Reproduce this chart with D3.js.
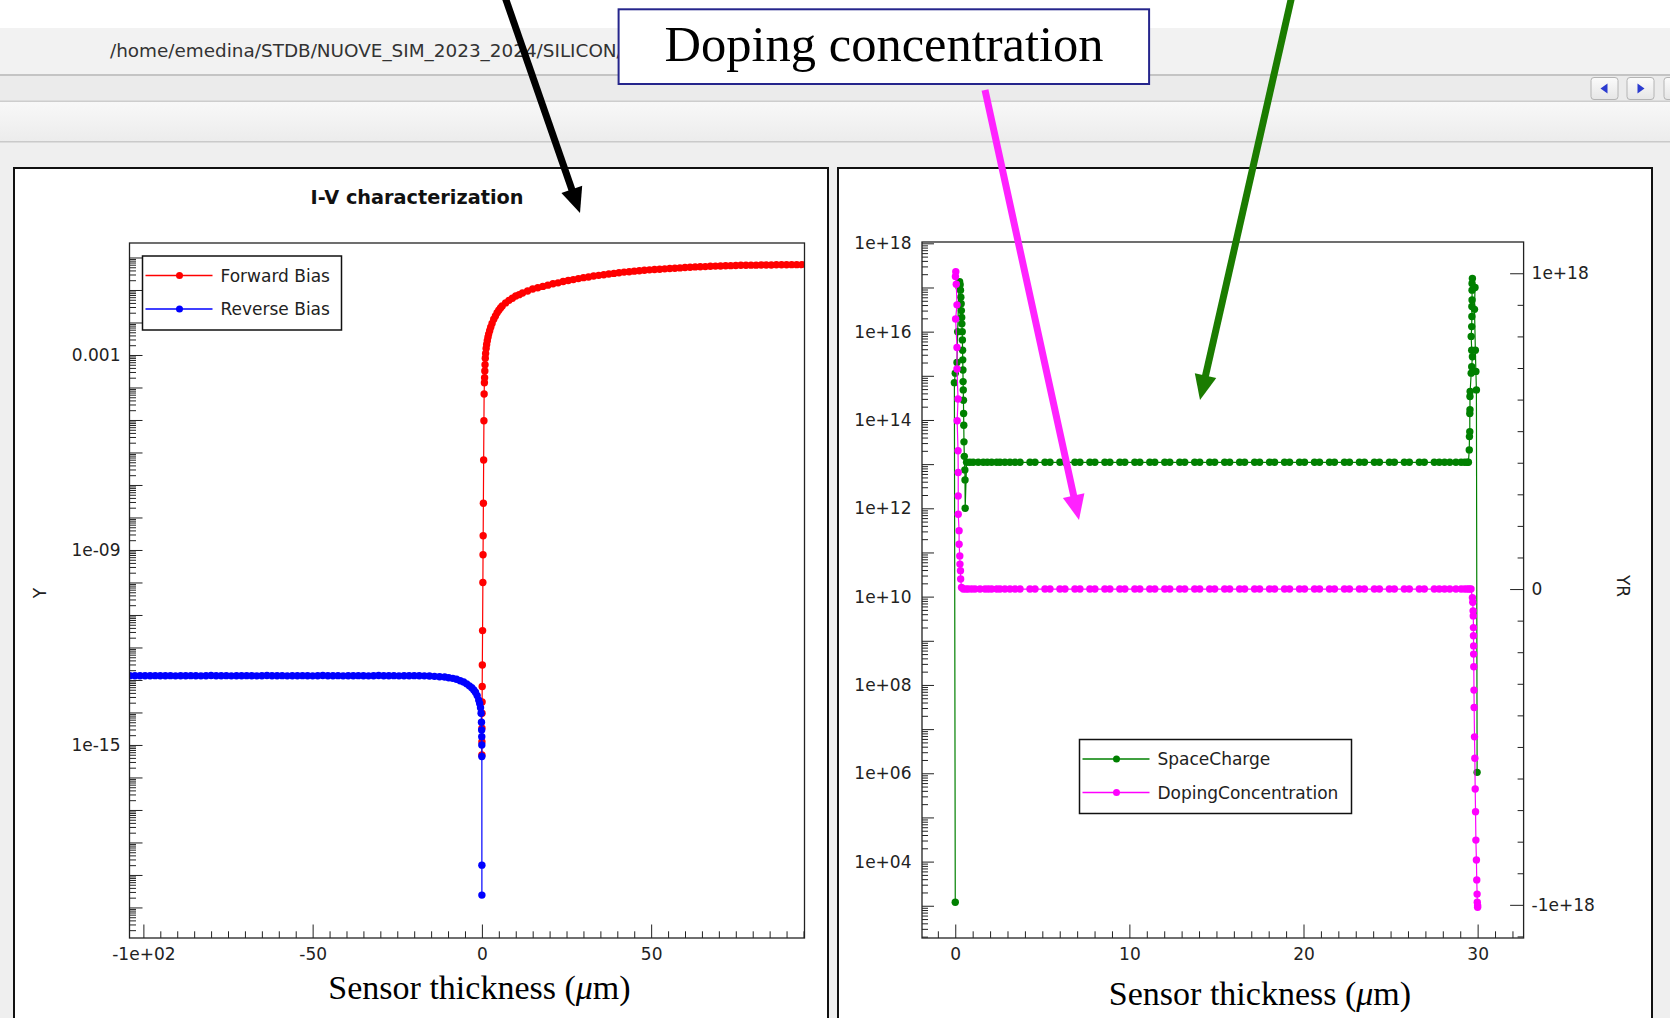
<!DOCTYPE html>
<html><head><meta charset="utf-8">
<script src="https://cdn.jsdelivr.net/npm/d3@7/dist/d3.min.js"></script>
<style>html,body{margin:0;padding:0;background:#fff;overflow:hidden}svg{display:block}</style>
</head><body>
<svg id="c" width="1670" height="1018"></svg>
<script>
// ================= DATA =================
const pathText = "/home/emedina/STDB/NUOVE_SIM_2023_2024/SILICON/";
const boxTitle = "Doping concentration";
const ivTitle = "I-V characterization";
const xTitleA = "Sensor thickness (", xTitleMu = "\u03bc", xTitleB = "m)";
const ivNames = ["Forward Bias", "Reverse Bias"];
const dopNames = ["SpaceCharge", "DopingConcentration"];
const ivYName = "Y", dopYRName = "YR";

// Forward bias (red)
const fwdV = [0.00,0.01,0.02,0.04,0.06,0.09,0.13,0.20,0.29,0.34,0.38,0.44,0.52,0.60,0.66,0.74,0.80,0.86,0.93,1.00,
  1.10,1.25,1.40,1.60,1.80,2.00,2.30,2.60,3.00,3.50,4.00,4.50,5.00,5.50,6.00,7.0,8.0,9.0,10.0,11.0,12.0,
  13.5,15.0,16.5,18.0,19.5,21.0,22.5,24.0,25.5,27.0,28.5,30.0,31.5,33.0,34.5,36.0,37.5,39.0,40.5,42.0,43.5,45.0,
  46.5,48.0,49.5,51.0,52.5,54.0,55.5,57.0,58.5,60.0,61.5,63.0,64.5,66.0,67.5,69.0,70.5,72.0,73.5,75.0,76.5,78.0,
  79.5,81.0,82.5,84.0,85.5,87.0,88.5,90.0,91.5,93.0,94.5,96.0];
const fwdI = [4.9e-16,1.26e-15,3.3e-15,9.5e-15,2.1e-14,6.3e-14,2.9e-13,3.3e-12,1.0e-10,7.1e-10,2.75e-9,2.75e-8,5.9e-7,9.5e-6,6.3e-5,1.4e-4,2.0e-4,3.2e-4,5.0e-4,7.9e-4,
  1.12e-3,1.58e-3,2.1e-3,2.75e-3,3.5e-3,4.4e-3,5.6e-3,7.2e-3,9.3e-3,1.26e-2,1.58e-2,2.0e-2,2.4e-2,2.8e-2,3.2e-2,4.0e-2,4.8e-2,5.6e-2,6.5e-2,7.2e-2,8.1e-2,
  9.3e-2,0.107,0.117,0.129,0.141,0.155,0.166,0.182,0.195,0.209,0.224,0.240,0.251,0.269,0.282,0.295,0.309,0.324,0.339,0.355,0.363,0.380,
  0.389,0.407,0.417,0.427,0.437,0.447,0.457,0.468,0.479,0.490,0.501,0.513,0.519,0.525,0.537,0.543,0.550,0.556,0.562,0.569,0.575,0.575,
  0.582,0.582,0.589,0.589,0.589,0.596,0.596,0.596,0.603,0.603,0.603,0.603];

// Reverse bias (blue)
const revV = [0.0,-0.001,-0.01,-0.02,-0.04,-0.07,-0.12,-0.24,-0.4,-0.65,-0.94,-1.4,-1.9,-2.4,-3.0,-3.7,-4.5,-5.4,-6.4,-7.5,-8.6,-9.8,-11,-12.5,-14,-15.5,-17,
  -18.5,-20,-21.5,-23,-24.5,-26,-27.5,-29,-30.5,-32,-33.5,-35,-36.5,-38,-39.5,-41,-42.5,-44,-45.5,-47,-48.5,-50,-51.5,-53,-54.5,-56,-57.5,-59,
  -60.5,-62,-63.5,-65,-66.5,-68,-69.5,-71,-72.5,-74,-75.5,-77,-78.5,-80,-81.5,-83,-84.5,-86,-87.5,-89,-90.5,-92,-93.5,-95,-96.5,-98,-99.5,-101,-102.5,-104];
const revI = [2.4e-20,2.0e-19,4.4e-16,1.0e-15,1.8e-15,2.9e-15,5.0e-15,9.5e-15,1.4e-14,1.9e-14,2.4e-14,3.3e-14,4.2e-14,4.9e-14,5.8e-14,6.6e-14,7.6e-14,8.7e-14,9.5e-14,1.05e-13,1.12e-13,1.17e-13,1.23e-13,1.26e-13,1.29e-13,1.32e-13,1.34e-13,
  1.35e-13,1.36e-13,1.35e-13,1.35e-13,1.34e-13,1.36e-13,1.35e-13,1.35e-13,1.37e-13,1.35e-13,1.34e-13,1.35e-13,1.36e-13,1.35e-13,1.35e-13,1.34e-13,1.36e-13,1.35e-13,1.35e-13,1.37e-13,1.35e-13,1.34e-13,1.35e-13,1.36e-13,1.35e-13,1.35e-13,1.34e-13,1.36e-13,
  1.35e-13,1.35e-13,1.37e-13,1.35e-13,1.34e-13,1.35e-13,1.36e-13,1.35e-13,1.35e-13,1.34e-13,1.36e-13,1.35e-13,1.35e-13,1.37e-13,1.35e-13,1.34e-13,1.35e-13,1.36e-13,1.35e-13,1.35e-13,1.34e-13,1.36e-13,1.35e-13,1.35e-13,1.36e-13,1.35e-13,1.35e-13,1.35e-13,1.35e-13,1.35e-13];

// SpaceCharge (green, left log axis)
const scX = [0.00,-0.05,0.00,0.10,0.14,0.18,0.22,0.25,0.28,0.30,0.32,0.34,0.35,0.37,0.38,0.40,0.41,0.42,0.43,0.44,0.45,0.46,0.47,0.48,0.49,0.50,0.52,0.55,0.56,0.57,
  0.65,0.84,1.03,1.32,1.61,1.84,2.09,2.38,2.57,2.85,3.14,
  3.43,3.72,4.29,4.58,5.15,5.44,6.01,6.30,6.87,7.16,7.73,8.02,8.59,8.88,9.45,9.74,10.31,10.60,11.17,11.46,12.03,12.32,12.89,13.18,13.75,14.04,14.61,14.90,
  15.47,15.76,16.33,16.62,17.19,17.48,18.05,18.34,18.91,19.20,19.77,20.06,20.63,20.92,21.49,21.78,22.35,22.64,23.21,23.50,24.07,24.36,24.93,25.22,25.79,26.08,26.65,26.94,27.51,27.80,
  28.10,28.40,28.75,29.05,29.25,29.40,29.47,
  29.52,29.53,29.55,29.55,29.56,29.56,29.57,29.63,29.66,29.70,29.66,29.63,29.66,29.67,29.67,29.68,29.68,29.68,29.70,
  29.85,29.82,29.87,29.90,29.93,29.97];
const scVal = [1.2e3,7.0e14,1.15e15,2.0e15,1.0e16,4.0e16,1.0e17,1.35e17,1.15e17,8.7e16,6.0e16,4.3e16,3.0e16,2.1e16,1.5e16,1.0e16,6.5e15,3.8e15,2.3e15,1.35e15,7.4e14,4.8e14,2.8e14,1.4e14,7.6e13,3.2e13,1.5e13,7.4e12,4.4e12,1.0e12,
  1.1e13,1.1e13,1.1e13,1.1e13,1.1e13,1.1e13,1.1e13,1.1e13,1.1e13,1.1e13,1.1e13,
  1.1e13,1.1e13,1.1e13,1.1e13,1.1e13,1.1e13,1.1e13,1.1e13,1.1e13,1.1e13,1.1e13,1.1e13,1.1e13,1.1e13,1.1e13,1.1e13,1.1e13,1.1e13,1.1e13,1.1e13,1.1e13,1.1e13,1.1e13,1.1e13,1.1e13,1.1e13,1.1e13,1.1e13,
  1.1e13,1.1e13,1.1e13,1.1e13,1.1e13,1.1e13,1.1e13,1.1e13,1.1e13,1.1e13,1.1e13,1.1e13,1.1e13,1.1e13,1.1e13,1.1e13,1.1e13,1.1e13,1.1e13,1.1e13,1.1e13,1.1e13,1.1e13,1.1e13,1.1e13,1.1e13,1.1e13,1.1e13,1.1e13,1.1e13,
  1.1e13,1.1e13,1.1e13,1.1e13,1.1e13,1.1e13,1.1e13,
  2.1e13,4.2e13,5.4e13,1.4e14,1.7e14,3.4e14,4.4e14,1.15e15,1.6e15,2.7e15,3.8e15,7.8e15,1.3e16,2.2e16,3.7e16,5.2e16,8.7e16,1.23e17,1.6e17,
  1.0e17,3.2e16,3.8e15,1.26e15,4.8e14,1.05e6];

// DopingConcentration (magenta, right linear axis)
const dopX = [0.03,0.01,0.06,0.10,0.02,0.10,0.10,0.16,0.11,0.16,0.17,0.17,0.17,0.22,0.22,0.26,0.27,0.30,0.31,0.36,
  0.46,0.61,0.75,0.94,1.13,1.42,1.71,1.90,2.09,2.38,2.57,2.85,3.14,
  3.43,3.72,4.29,4.58,5.15,5.44,6.01,6.30,6.87,7.16,7.73,8.02,8.59,8.88,9.45,9.74,10.31,10.60,11.17,11.46,12.03,12.32,12.89,13.18,13.75,14.04,14.61,14.90,
  15.47,15.76,16.33,16.62,17.19,17.48,18.05,18.34,18.91,19.20,19.77,20.06,20.63,20.92,21.49,21.78,22.35,22.64,23.21,23.50,24.07,24.36,24.93,25.22,25.79,26.08,26.65,26.94,27.51,27.80,
  28.10,28.40,28.75,29.05,29.25,29.40,29.52,29.62,
  29.70,29.72,29.74,29.75,29.76,29.76,29.77,29.77,29.78,29.79,29.80,29.82,29.84,29.86,29.88,29.90,29.93,29.95,29.97,29.98,30.00,30.00];
const dopVal = [1.005e18,0.99e18,0.965e18,0.90e18,0.855e18,0.765e18,0.697e18,0.602e18,0.533e18,0.438e18,0.369e18,0.295e18,0.237e18,0.185e18,0.142e18,0.105e18,0.079e18,0.058e18,0.032e18,0.005e18,
  1.3e12,1.3e12,1.3e12,1.3e12,1.3e12,1.3e12,1.3e12,1.3e12,1.3e12,1.3e12,1.3e12,1.3e12,1.3e12,
  1.3e12,1.3e12,1.3e12,1.3e12,1.3e12,1.3e12,1.3e12,1.3e12,1.3e12,1.3e12,1.3e12,1.3e12,1.3e12,1.3e12,1.3e12,1.3e12,1.3e12,1.3e12,1.3e12,1.3e12,1.3e12,1.3e12,1.3e12,1.3e12,1.3e12,1.3e12,1.3e12,1.3e12,
  1.3e12,1.3e12,1.3e12,1.3e12,1.3e12,1.3e12,1.3e12,1.3e12,1.3e12,1.3e12,1.3e12,1.3e12,1.3e12,1.3e12,1.3e12,1.3e12,1.3e12,1.3e12,1.3e12,1.3e12,1.3e12,1.3e12,1.3e12,1.3e12,1.3e12,1.3e12,1.3e12,1.3e12,1.3e12,1.3e12,
  1.3e12,1.3e12,1.3e12,1.3e12,1.3e12,1.3e12,1.3e12,1.3e12,
  -0.027e18,-0.042e18,-0.069e18,-0.085e18,-0.122e18,-0.148e18,-0.18e18,-0.206e18,-0.246e18,-0.32e18,-0.375e18,-0.468e18,-0.536e18,-0.633e18,-0.705e18,-0.795e18,-0.858e18,-0.921e18,-0.966e18,-0.992e18,-1.003e18,-1.008e18];

// Ticks and tick labels
const ivXMajor = [-100,-50,0,50];
const ivXLabels = ["-1e+02","-50","0","50"];
const ivXMinorStep = 5;
const ivYLabelVals = [1e-3,1e-9,1e-15];
const ivYLabels = ["0.001","1e-09","1e-15"];
const dopXMajor = [0,10,20,30];
const dopXLabels = ["0","10","20","30"];
const dopYLabelVals = [1e4,1e6,1e8,1e10,1e12,1e14,1e16,1e18];
const dopYLabels = ["1e+04","1e+06","1e+08","1e+10","1e+12","1e+14","1e+16","1e+18"];
const dopYRMajor = [-1e18,0,1e18];
const dopYRLabels = ["-1e+18","0","1e+18"];

// ================= DRAWING =================
const svg = d3.select("#c");
const TXT = "#222";
const SANS = "'DejaVu Sans', Verdana, sans-serif";
const SERIF = "'Liberation Serif', 'Times New Roman', serif";

// window chrome
svg.append("rect").attr("width",1670).attr("height",1018).attr("fill","#efefef");
svg.append("rect").attr("width",1670).attr("height",28).attr("fill","#ffffff");
svg.append("rect").attr("y",28).attr("width",1670).attr("height",46).attr("fill","#f2f2f2");
svg.append("rect").attr("y",74).attr("width",1670).attr("height",2).attr("fill","#c4c4c4");
svg.append("rect").attr("y",76).attr("width",1670).attr("height",25).attr("fill","#ebebeb");
svg.append("rect").attr("y",100.5).attr("width",1670).attr("height",1.5).attr("fill","#cdcdcd");
const gr = svg.append("defs").append("linearGradient").attr("id","tb").attr("x1",0).attr("x2",0).attr("y1",0).attr("y2",1);
gr.append("stop").attr("offset","0").attr("stop-color","#f8f8f8");
gr.append("stop").attr("offset","1").attr("stop-color","#ececec");
svg.append("rect").attr("y",102).attr("width",1670).attr("height",39.5).attr("fill","url(#tb)");
svg.append("rect").attr("y",141).attr("width",1670).attr("height",1.5).attr("fill","#cacaca");

const btnG = svg.append("defs").append("linearGradient").attr("id","bt").attr("x1",0).attr("x2",0).attr("y1",0).attr("y2",1);
btnG.append("stop").attr("offset","0").attr("stop-color","#fbfbfb");
btnG.append("stop").attr("offset","1").attr("stop-color","#e6e6e6");
[[1591,-1],[1627,1],[1664,0]].forEach(([bx,dir]) => {
  svg.append("rect").attr("x",bx).attr("y",77.5).attr("width",27).attr("height",22).attr("rx",3)
    .attr("fill","url(#bt)").attr("stroke","#b4b4b4");
  if (dir !== 0) {
    const cx = bx+13.5, cy = 88.5;
    const pts = dir<0 ? [[cx-4,cy],[cx+3,cy-5],[cx+3,cy+5]] : [[cx+4,cy],[cx-3,cy-5],[cx-3,cy+5]];
    svg.append("polygon").attr("points",pts.map(p=>p.join(",")).join(" ")).attr("fill","#2b3bd0");
  }
});

svg.append("text").attr("x",110).attr("y",57).attr("font-family",SANS).attr("font-size",18.4)
  .attr("fill","#333").text(pathText);

// panels
svg.append("rect").attr("x",14).attr("y",168).attr("width",814).attr("height",900).attr("fill","#fff").attr("stroke","#111").attr("stroke-width",2);
svg.append("rect").attr("x",838).attr("y",168).attr("width",814).attr("height",900).attr("fill","#fff").attr("stroke","#111").attr("stroke-width",2);

// ---------- helpers ----------
function styleAxis(g, fontSize) {
  g.attr("font-family",SANS).attr("font-size",fontSize||17);
  g.select(".domain").remove();
  g.selectAll(".tick line").attr("stroke","#222").attr("stroke-width",1);
  g.selectAll(".tick text").attr("fill",TXT);
}
function logMinor(lo, hi) {
  const out = [];
  for (let e = lo; e < hi; e++) for (let k = 2; k <= 9; k++) out.push(k*Math.pow(10,e));
  return out;
}
function decades(lo, hi) { const o=[]; for (let e=lo; e<=hi; e++) o.push(Math.pow(10,e)); return o; }
function drawSeries(g, xs, ys, sx, sy, color, clipId) {
  const pts = d3.zip(xs, ys);
  const gg = g.append("g").attr("clip-path",`url(#${clipId})`);
  gg.append("path").datum(pts).attr("fill","none").attr("stroke",color).attr("stroke-width",1.2)
    .attr("d", d3.line().x(d=>sx(d[0])).y(d=>sy(d[1])));
  gg.selectAll("circle.m").data(pts).join("circle").attr("class","m")
    .attr("cx",d=>sx(d[0])).attr("cy",d=>sy(d[1])).attr("r",3.7).attr("fill",color);
}
function legend(g, x, y, w, h, entries) {
  g.append("rect").attr("x",x).attr("y",y).attr("width",w).attr("height",h).attr("fill","#fff").attr("stroke","#111").attr("stroke-width",1.5);
  entries.forEach((e,i) => {
    const ly = y + 19.5 + i*33.5;
    g.append("line").attr("x1",x+3).attr("x2",x+70).attr("y1",ly).attr("y2",ly).attr("stroke",e.color).attr("stroke-width",1.3);
    g.append("circle").attr("cx",x+37).attr("cy",ly).attr("r",3.5).attr("fill",e.color);
    g.append("text").attr("x",x+78).attr("y",ly).attr("dy","0.36em").attr("font-family",SANS).attr("font-size",17).attr("fill",TXT).text(e.name);
  });
}
const defs = svg.append("defs");

// ---------- LEFT: I-V ----------
const L = {x0:129.5, x1:804.5, y0:243, y1:938};
defs.append("clipPath").attr("id","clipL").append("rect").attr("x",L.x0).attr("y",L.y0).attr("width",L.x1-L.x0).attr("height",L.y1-L.y0);
const lx = d3.scaleLinear().domain([-104.1,95.3]).range([L.x0,L.x1]);
const ly = d3.scaleLog().domain([Math.pow(10,-20.94),Math.pow(10,0.446)]).range([L.y1,L.y0]);
const gL = svg.append("g");

svg.append("text").attr("x",417).attr("y",204).attr("text-anchor","middle").attr("font-family",SANS)
  .attr("font-weight","bold").attr("font-size",19.3).attr("fill","#111").text(ivTitle);

drawSeries(gL, fwdV, fwdI, lx, ly, "#ff0000", "clipL");
drawSeries(gL, revV, revI, lx, ly, "#0000ff", "clipL");

gL.append("rect").attr("x",L.x0).attr("y",L.y0).attr("width",L.x1-L.x0).attr("height",L.y1-L.y0).attr("fill","none").attr("stroke","#222").attr("stroke-width",1.3);
const lxMinor = d3.range(-100, 95.01, ivXMinorStep).filter(v => !ivXMajor.includes(v));
gL.append("g").attr("transform",`translate(0,${L.y1})`).call(d3.axisTop(lx).tickValues(ivXMajor).tickSize(13.5).tickFormat("")).call(styleAxis);
gL.append("g").attr("transform",`translate(0,${L.y1})`).call(d3.axisTop(lx).tickValues(lxMinor).tickSize(6.7).tickFormat("")).call(styleAxis);
gL.append("g").attr("transform",`translate(0,${L.y1})`).call(d3.axisBottom(lx).tickValues(ivXMajor).tickSize(0).tickPadding(10).tickFormat((d,i)=>ivXLabels[i])).call(styleAxis);
gL.append("g").attr("transform",`translate(${L.x0},0)`).call(d3.axisRight(ly).tickValues(decades(-20,0)).tickSize(13).tickFormat("")).call(styleAxis);
gL.append("g").attr("transform",`translate(${L.x0},0)`).call(d3.axisRight(ly).tickValues(logMinor(-21,0).filter(v=>v<2.79)).tickSize(6.5).tickFormat("")).call(styleAxis);
gL.append("g").attr("transform",`translate(${L.x0},0)`).call(d3.axisLeft(ly).tickValues(ivYLabelVals).tickSize(0).tickPadding(9).tickFormat((d,i)=>ivYLabels[i])).call(styleAxis);

svg.append("text").attr("transform","translate(40,593) rotate(-90)").attr("text-anchor","middle").attr("dy","0.35em")
  .attr("font-family",SANS).attr("font-size",17).attr("fill",TXT).text(ivYName);

legend(gL, 142.5, 256, 199, 74, [{name:ivNames[0],color:"#ff0000"},{name:ivNames[1],color:"#0000ff"}]);

const tL = svg.append("text").attr("x",479.5).attr("y",999).attr("text-anchor","middle").attr("font-family",SERIF).attr("font-size",34).attr("fill","#000");
tL.append("tspan").text(xTitleA); tL.append("tspan").attr("font-style","italic").text(xTitleMu); tL.append("tspan").text(xTitleB);

// ---------- RIGHT: doping ----------
const R = {x0:922, x1:1523.6, y0:242, y1:938};
defs.append("clipPath").attr("id","clipR").append("rect").attr("x",R.x0).attr("y",R.y0).attr("width",R.x1-R.x0).attr("height",R.y1-R.y0);
const rx = d3.scaleLinear().domain([-1.91,32.64]).range([R.x0,R.x1]);
const ryL = d3.scaleLog().domain([Math.pow(10,2.27),Math.pow(10,18.03)]).range([R.y1,R.y0]);
const ryR = d3.scaleLinear().domain([-1.105e18,1.099e18]).range([R.y1,R.y0]);
const gR = svg.append("g");

drawSeries(gR, scX, scVal, rx, ryL, "#008000", "clipR");
drawSeries(gR, dopX, dopVal, rx, ryR, "#ff00ff", "clipR");

gR.append("rect").attr("x",R.x0).attr("y",R.y0).attr("width",R.x1-R.x0).attr("height",R.y1-R.y0).attr("fill","none").attr("stroke","#222").attr("stroke-width",1.3);
const rxMinor = d3.range(-1, 32.01, 1).filter(v => !dopXMajor.includes(v));
gR.append("g").attr("transform",`translate(0,${R.y1})`).call(d3.axisTop(rx).tickValues(dopXMajor).tickSize(13.5).tickFormat("")).call(styleAxis);
gR.append("g").attr("transform",`translate(0,${R.y1})`).call(d3.axisTop(rx).tickValues(rxMinor).tickSize(6.7).tickFormat("")).call(styleAxis);
gR.append("g").attr("transform",`translate(0,${R.y1})`).call(d3.axisBottom(rx).tickValues(dopXMajor).tickSize(0).tickPadding(10).tickFormat((d,i)=>dopXLabels[i])).call(styleAxis);
gR.append("g").attr("transform",`translate(${R.x0},0)`).call(d3.axisRight(ryL).tickValues(decades(3,18)).tickSize(12).tickFormat("")).call(styleAxis);
gR.append("g").attr("transform",`translate(${R.x0},0)`).call(d3.axisRight(ryL).tickValues(logMinor(2,18).filter(v=>v>186)).tickSize(6).tickFormat("")).call(styleAxis);
gR.append("g").attr("transform",`translate(${R.x0},0)`).call(d3.axisLeft(ryL).tickValues(dopYLabelVals).tickSize(0).tickPadding(10.5).tickFormat((d,i)=>dopYLabels[i])).call(styleAxis);
const rMinor = d3.range(-11, 11, 1).map(k => k*1e17).filter(v => !dopYRMajor.includes(v) && Math.abs(v)>1);
gR.append("g").attr("transform",`translate(${R.x1},0)`).call(d3.axisLeft(ryR).tickValues(dopYRMajor).tickSize(13.5).tickFormat("")).call(styleAxis);
gR.append("g").attr("transform",`translate(${R.x1},0)`).call(d3.axisLeft(ryR).tickValues(rMinor).tickSize(6).tickFormat("")).call(styleAxis);
gR.append("g").attr("transform",`translate(${R.x1},0)`).call(d3.axisRight(ryR).tickValues(dopYRMajor).tickSize(0).tickPadding(8).tickFormat((d,i)=>dopYRLabels[i])).call(styleAxis);

svg.append("text").attr("transform","translate(1623,586) rotate(90)").attr("text-anchor","middle").attr("dy","0.35em")
  .attr("font-family",SANS).attr("font-size",17).attr("fill",TXT).text(dopYRName);

legend(gR, 1079.5, 739.5, 272, 74, [{name:dopNames[0],color:"#008000"},{name:dopNames[1],color:"#ff00ff"}]);

const tR = svg.append("text").attr("x",1260).attr("y",1005).attr("text-anchor","middle").attr("font-family",SERIF).attr("font-size",34).attr("fill","#000");
tR.append("tspan").text(xTitleA); tR.append("tspan").attr("font-style","italic").text(xTitleMu); tR.append("tspan").text(xTitleB);

// ---------- annotation box ----------
svg.append("rect").attr("x",618.6).attr("y",9.3).attr("width",530.5).attr("height",74.7).attr("fill","#fff").attr("stroke","#25258c").attr("stroke-width",2);
svg.append("text").attr("x",664.6).attr("y",61).attr("font-family",SERIF).attr("font-size",50.5).attr("fill","#000").text(boxTitle);

// ---------- arrows ----------
function arrow(x1,y1,x2,y2,color,w,hl,hw) {
  const dx=x2-x1, dy=y2-y1, len=Math.hypot(dx,dy), ux=dx/len, uy=dy/len;
  const bx=x2-ux*hl, by=y2-uy*hl, px=-uy, py=ux;
  svg.append("line").attr("x1",x1).attr("y1",y1).attr("x2",bx+ux*2).attr("y2",by+uy*2).attr("stroke",color).attr("stroke-width",w);
  svg.append("polygon").attr("points",[[x2,y2],[bx+px*hw,by+py*hw],[bx-px*hw,by-py*hw]].map(p=>p.join(",")).join(" ")).attr("fill",color);
}
arrow(504.3,-5,580,213,"#000000",7,25,11);
arrow(1292.1,-5,1200,400,"#1b7c00",7,25,11);
arrow(985,90,1079,520,"#ff22ff",7,25,11);
</script>
</body></html>
